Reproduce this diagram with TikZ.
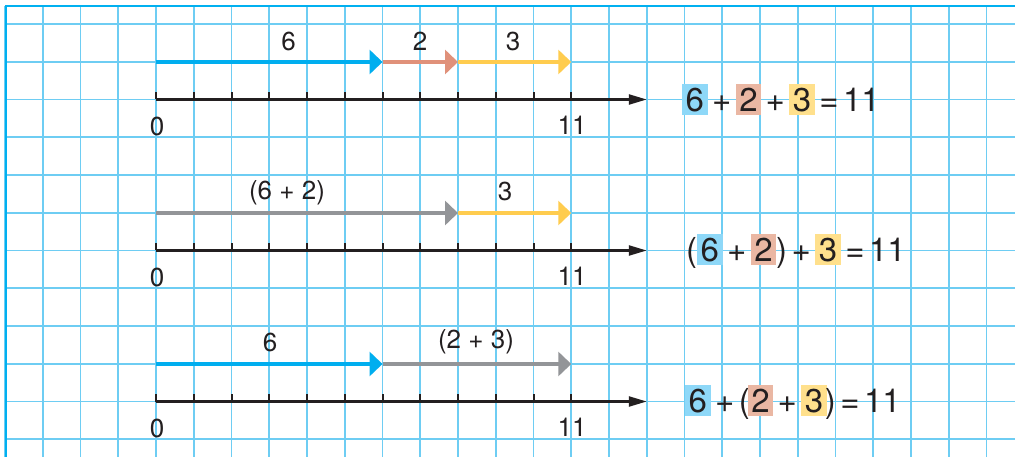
\documentclass[tikz,border=0pt]{standalone}
\usepackage{fontspec}
\setmainfont{TeX Gyre Heros}
\usetikzlibrary{arrows.meta}
\definecolor{gridc}{RGB}{110,205,243}
\definecolor{borderc}{RGB}{0,176,240}
\definecolor{ablue}{RGB}{0,174,239}
\definecolor{asalmon}{RGB}{224,145,122}
\definecolor{ayellow}{RGB}{255,204,78}
\definecolor{agray}{RGB}{147,149,152}
\definecolor{hblue}{RGB}{142,216,248}
\definecolor{hsalmon}{RGB}{234,183,163}
\definecolor{hyellow}{RGB}{255,224,140}
\definecolor{ink}{RGB}{35,31,32}
\newcommand\hlbox[2]{{\setlength\fboxsep{3.5pt}\colorbox{#1}{\rule[-0.5pt]{0pt}{24.5pt}#2}}}
\newcommand\gp{\hspace{4.5pt}}
\begin{document}
\begin{tikzpicture}[x=1pt,y=-1pt,
  seg/.style={line width=4.5pt,-{Triangle[length=13pt,width=24pt]}},
  axisline/.style={line width=2.4pt,ink,-{Triangle[length=18pt,width=10pt]}},
  tickmark/.style={line width=2pt,ink},
  lbl/.style={font=\fontsize{26}{28}\selectfont, text=ink, inner sep=0pt},
  eqn/.style={font=\fontsize{33}{36}\selectfont, text=ink, inner sep=0pt, anchor=west},
]
\useasboundingbox (0,0) rectangle (1015,457);
\fill[white] (0,0) rectangle (1015,457);
% grid
\foreach \k in {-4,...,22} \draw[gridc,line width=1.8pt] ({156+37.75*\k},6) -- ({156+37.75*\k},457);
\foreach \k in {-2,...,9} \draw[gridc,line width=1.8pt] (6,{99.5+37.75*\k}) -- (1015,{99.5+37.75*\k});
\draw[borderc,line width=2pt] (1015,6) -- (6,6) -- (6,457);

% ---------- row 1 ----------
\coordinate (a1s) at (156,99.5); \coordinate (a1e) at (646.75,99.5);
\draw[axisline] (a1s) -- (a1e);
\foreach \k in {0,...,11} \draw[tickmark] ({156+37.75*\k},99.5) -- ++(0,-7.5);
\node[lbl] (z1) at (157,126) {0};
\node[lbl] (e1) at (572,125) {11};
\coordinate (p1a) at (156,62); \coordinate (p1b) at (382.5,62);
\coordinate (p1c) at (458,62); \coordinate (p1d) at (571.25,62);
\draw[seg,ablue] (p1a) -- (p1b);
\draw[seg,asalmon] (p1b) -- (p1c);
\draw[seg,ayellow] (p1c) -- (p1d);
\node[lbl] (l1a) at (288.5,41.5) {6};
\node[lbl] (l1b) at (420,41) {2};
\node[lbl] (l1c) at (513,41) {3};
\node[eqn] (q1) at (682,99.5) {\hlbox{hblue}{6}\gp+\gp\hlbox{hsalmon}{2}\gp+\gp\hlbox{hyellow}{3}\gp=\gp11};

% ---------- row 2 ----------
\coordinate (a2s) at (156,250.5); \coordinate (a2e) at (646.75,250.5);
\draw[axisline] (a2s) -- (a2e);
\foreach \k in {0,...,11} \draw[tickmark] ({156+37.75*\k},250.5) -- ++(0,-7.5);
\node[lbl] (z2) at (157,277) {0};
\node[lbl] (e2) at (572,276) {11};
\coordinate (p2a) at (156,213); \coordinate (p2c) at (458,213);
\coordinate (p2d) at (571.25,213);
\draw[seg,agray] (p2a) -- (p2c);
\draw[seg,ayellow] (p2c) -- (p2d);
\node[lbl] (l2a) at (287,193) {(6 + 2)};
\node[lbl] (l2b) at (505,191) {3};
\node[eqn] (q2) at (686,251) {(\hlbox{hblue}{6}\gp+\gp\hlbox{hsalmon}{2})\gp+\gp\hlbox{hyellow}{3}\gp=\gp11};

% ---------- row 3 ----------
\coordinate (a3s) at (156,401.5); \coordinate (a3e) at (646.75,401.5);
\draw[axisline] (a3s) -- (a3e);
\foreach \k in {0,...,11} \draw[tickmark] ({156+37.75*\k},401.5) -- ++(0,-7.5);
\node[lbl] (z3) at (157,428) {0};
\node[lbl] (e3) at (572,427) {11};
\coordinate (p3a) at (156,364); \coordinate (p3b) at (382.5,364);
\coordinate (p3d) at (571.25,364);
\draw[seg,ablue] (p3a) -- (p3b);
\draw[seg,agray] (p3b) -- (p3d);
\node[lbl] (l3a) at (270,342) {6};
\node[lbl] (l3b) at (476,342) {(2 + 3)};
\node[eqn] (q3) at (685,402) {\hlbox{hblue}{6}\gp+\gp(\hspace{-2pt}\hlbox{hsalmon}{2}\gp+\gp\hlbox{hyellow}{3}\hspace{-2pt})\gp=\gp11};
\end{tikzpicture}
\end{document}
